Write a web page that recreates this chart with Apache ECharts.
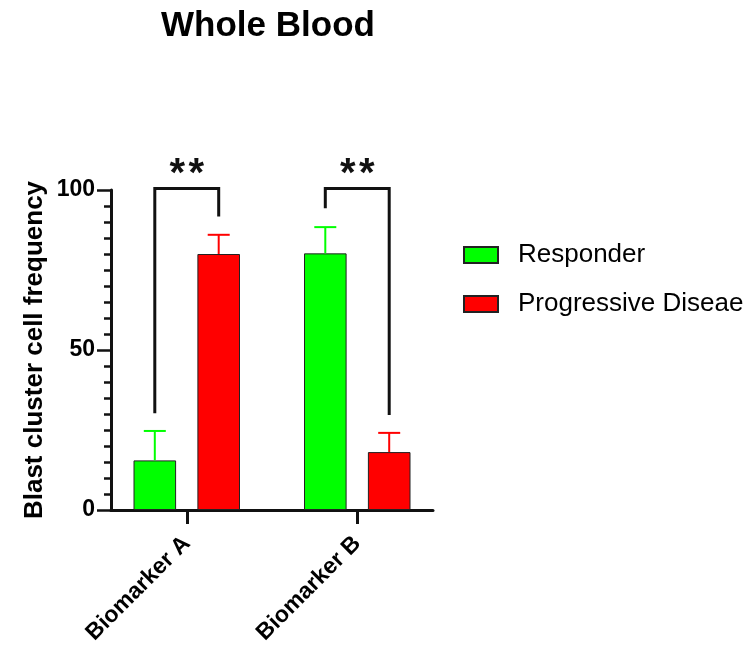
<!DOCTYPE html>
<html>
<head>
<meta charset="utf-8">
<script src="https://cdn.jsdelivr.net/npm/echarts@6/dist/echarts.min.js"></script>
<style>
  html, body { margin: 0; padding: 0; background: #fff; }
  #chart { width: 751px; height: 652px; }
</style>
</head>
<body>
<div id="chart"></div>
<script>
// data
const categories = ['Biomarker A', 'Biomarker B']
const responderMean = [15.5, 80.2]
const responderErr = [9.2, 8.2]
const progressiveMean = [80.0, 18.1]
const progressiveErr = [6.0, 6.0]
// significance brackets: leg ends (left = responder, right = progressive) and top
const sigLeftEnd = [30.2, 94.3]
const sigRightEnd = [91.7, 29.7]
const sigTop = [100.5, 100.5]
const sigStars = [2, 2]

const FONT = 'Liberation Sans, Arial, sans-serif'
const GREEN = '#00ff00'
const RED = '#ff0000'
const BAR_W = 42.6
const BAR_GAP = 0.5
const OFFSET = (BAR_W + BAR_W * BAR_GAP) / 2

function errorBar (offset, color) {
  return function (params, api) {
    const i = api.value(0)
    const base = api.coord([i, api.value(1)])
    const top = api.coord([i, api.value(1) + api.value(2)])
    const x = base[0] + offset
    return {
      type: 'group',
      children: [
        { type: 'line', shape: { x1: x, y1: base[1], x2: x, y2: top[1] }, style: { stroke: color, lineWidth: 2 } },
        { type: 'line', shape: { x1: x - 11, y1: top[1], x2: x + 11, y2: top[1] }, style: { stroke: color, lineWidth: 2 } }
      ]
    }
  }
}

function bracket (params, api) {
  const i = api.value(0)
  const l = api.coord([i, api.value(1)])
  const r = api.coord([i, api.value(2)])
  const t = api.coord([i, api.value(3)])
  const xl = l[0] - OFFSET
  const xr = r[0] + OFFSET
  const mid = (xl + xr) / 2
  const n = sigStars[params.dataIndex]
  const children = [{
    type: 'polyline',
    shape: { points: [[xl, l[1]], [xl, t[1]], [xr, t[1]], [xr, r[1]]] },
    style: { stroke: '#111', lineWidth: 3, fill: null }
  }]
  // one star per text so the spacing matches the picture
  for (let k = 0; k < n; k++) {
    children.push({
      type: 'text',
      style: {
        x: mid + (k - (n - 1) / 2) * 19,
        y: t[1] - 13,
        text: '*',
        fill: '#111',
        font: 'bold 40px ' + FONT,
        textAlign: 'center',
        textVerticalAlign: 'middle'
      }
    })
  }
  return { type: 'group', children: children }
}

const chart = echarts.init(document.getElementById('chart'))

chart.setOption({
  animation: false,
  title: {
    text: 'Whole Blood',
    left: 263,
    textAlign: 'center',
    top: 4,
    textStyle: { fontFamily: FONT, fontSize: 35, fontWeight: 'bold', color: '#000' }
  },
  legend: {
    orient: 'vertical',
    left: 458,
    top: 237,
    icon: 'rect',
    itemWidth: 34,
    itemHeight: 16,
    itemGap: 23,
    data: ['Responder', 'Progressive Diseae'],
    textStyle: { fontFamily: FONT, fontSize: 26, color: '#000', padding: [0, 0, 0, 15] }
  },
  grid: [
    { left: 101.5, width: 341, top: 190, height: 320 },
    { left: 111, width: 322, top: 190, height: 320 }
  ],
  xAxis: [
    {
      type: 'category',
      gridIndex: 0,
      data: categories,
      axisLine: { show: false },
      axisTick: { show: true, alignWithLabel: true, length: 14, lineStyle: { color: '#111', width: 3 } },
      axisLabel: {
        rotate: 45,
        margin: 30,
        interval: 0,
        fontFamily: FONT,
        fontSize: 23,
        fontWeight: 'bold',
        color: '#000'
      }
    },
    {
      type: 'value',
      gridIndex: 1,
      min: 0,
      max: 1,
      axisLine: { show: true, lineStyle: { color: '#111', width: 3 } },
      axisTick: { show: false },
      axisLabel: { show: false },
      splitLine: { show: false }
    }
  ],
  yAxis: [
    { type: 'value', gridIndex: 0, min: 0, max: 100, show: false },
    {
      type: 'value',
      gridIndex: 1,
      min: 0,
      max: 100,
      interval: 50,
      name: 'Blast cluster cell frequency',
      nameLocation: 'middle',
      nameGap: 63,
      nameTextStyle: { fontFamily: FONT, fontSize: 26, fontWeight: 'bold', color: '#000' },
      axisLine: { show: true, lineStyle: { color: '#111', width: 3 } },
      axisTick: { show: true, length: 14, lineStyle: { color: '#111', width: 2.5 } },
      minorTick: { show: true, splitNumber: 10, length: 7, lineStyle: { color: '#111', width: 2.5 } },
      axisLabel: { margin: 16, fontFamily: FONT, fontSize: 23, fontWeight: 'bold', color: '#000' },
      splitLine: { show: false }
    }
  ],
  series: [
    {
      name: 'Responder',
      type: 'bar',
      xAxisIndex: 0,
      yAxisIndex: 0,
      barWidth: BAR_W,
      barGap: (BAR_GAP * 100) + '%',
      data: responderMean,
      itemStyle: { color: GREEN, borderColor: '#222', borderWidth: 1 }
    },
    {
      name: 'Progressive Diseae',
      type: 'bar',
      xAxisIndex: 0,
      yAxisIndex: 0,
      barWidth: BAR_W,
      barGap: (BAR_GAP * 100) + '%',
      data: progressiveMean,
      itemStyle: { color: RED, borderColor: '#222', borderWidth: 1 }
    },
    {
      type: 'custom',
      xAxisIndex: 0,
      yAxisIndex: 0,
      renderItem: errorBar(-OFFSET, GREEN),
      data: categories.map((c, i) => [i, responderMean[i], responderErr[i]]),
      z: 3
    },
    {
      type: 'custom',
      xAxisIndex: 0,
      yAxisIndex: 0,
      renderItem: errorBar(OFFSET, RED),
      data: categories.map((c, i) => [i, progressiveMean[i], progressiveErr[i]]),
      z: 3
    },
    {
      type: 'custom',
      xAxisIndex: 0,
      yAxisIndex: 0,
      renderItem: bracket,
      clip: false,
      data: categories.map((c, i) => [i, sigLeftEnd[i], sigRightEnd[i], sigTop[i]]),
      z: 4
    }
  ]
})

window.addEventListener('resize', () => chart.resize())
</script>
</body>
</html>
